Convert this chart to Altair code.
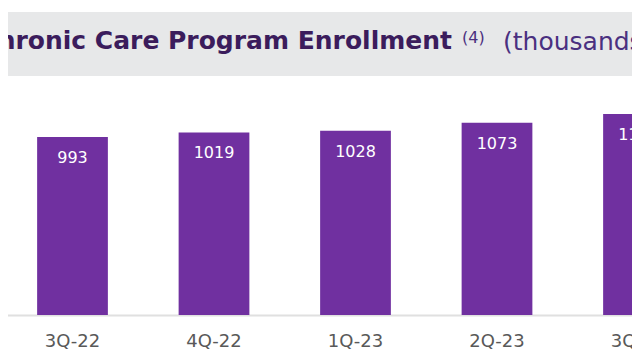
import altair as alt
import pandas as pd

quarters = ["3Q-22", "4Q-22", "1Q-23", "2Q-23", "3Q-23"]
enrollment = [993, 1019, 1028, 1073, 1121]
title_main = ["Chronic Care Program Enrollment"]
title_note = ["(4)"]
title_unit = ["(thousands)"]

df = pd.DataFrame({"quarter": quarters, "value": enrollment})

FONT = "DejaVu Sans"

x = alt.X(
    "quarter:N",
    sort=quarters,
    scale=alt.Scale(range=[-6.25, 701.25], paddingInner=0.5, paddingOuter=0.25),
    axis=alt.Axis(
        title=None, ticks=False, domainColor="#e0e0e0", domainWidth=2,
        labelFontSize=18, labelColor="#595959", labelFont=FONT,
        labelPadding=17, labelAngle=0, grid=False,
    ),
)
y = alt.Y("value:Q", scale=alt.Scale(domain=[0, 1713], range=[307, 0]), axis=None)

bars = alt.Chart(df).mark_bar(color="#7030A0").encode(x=x, y=y)
labels = alt.Chart(df).mark_text(
    color="white", fontSize=16, baseline="middle", dy=21, font=FONT
).encode(x=x, y=y, text="value:Q")

banner = alt.Chart(pd.DataFrame({"a": [0]})).mark_rect(color="#e7e8e9").encode(
    x=alt.value(0), x2=alt.value(624), y=alt.value(4), y2=alt.value(68)
)

t1 = alt.Chart(pd.DataFrame({"t": title_main})).mark_text(
    font=FONT, fontSize=25, fontWeight="bold", color="#3b1c5c",
    align="right", baseline="alphabetic",
).encode(x=alt.value(444), y=alt.value(41), text="t:N")

t2 = alt.Chart(pd.DataFrame({"t": title_note})).mark_text(
    font=FONT, fontSize=16, color="#4a3080", align="left", baseline="alphabetic",
).encode(x=alt.value(454), y=alt.value(35), text="t:N")

t3 = alt.Chart(pd.DataFrame({"t": title_unit})).mark_text(
    font=FONT, fontSize=25, color="#4a3080", align="left", baseline="alphabetic",
).encode(x=alt.value(495), y=alt.value(42), text="t:N")

chart = alt.layer(banner, t1, t2, t3, bars, labels).properties(
    width=624, height=307, autosize="none",
    padding={"left": 0, "top": 0, "right": 0, "bottom": 37},
).configure_view(stroke=None)

chart.save("out.html", embed_options={"renderer": "svg", "actions": False})
